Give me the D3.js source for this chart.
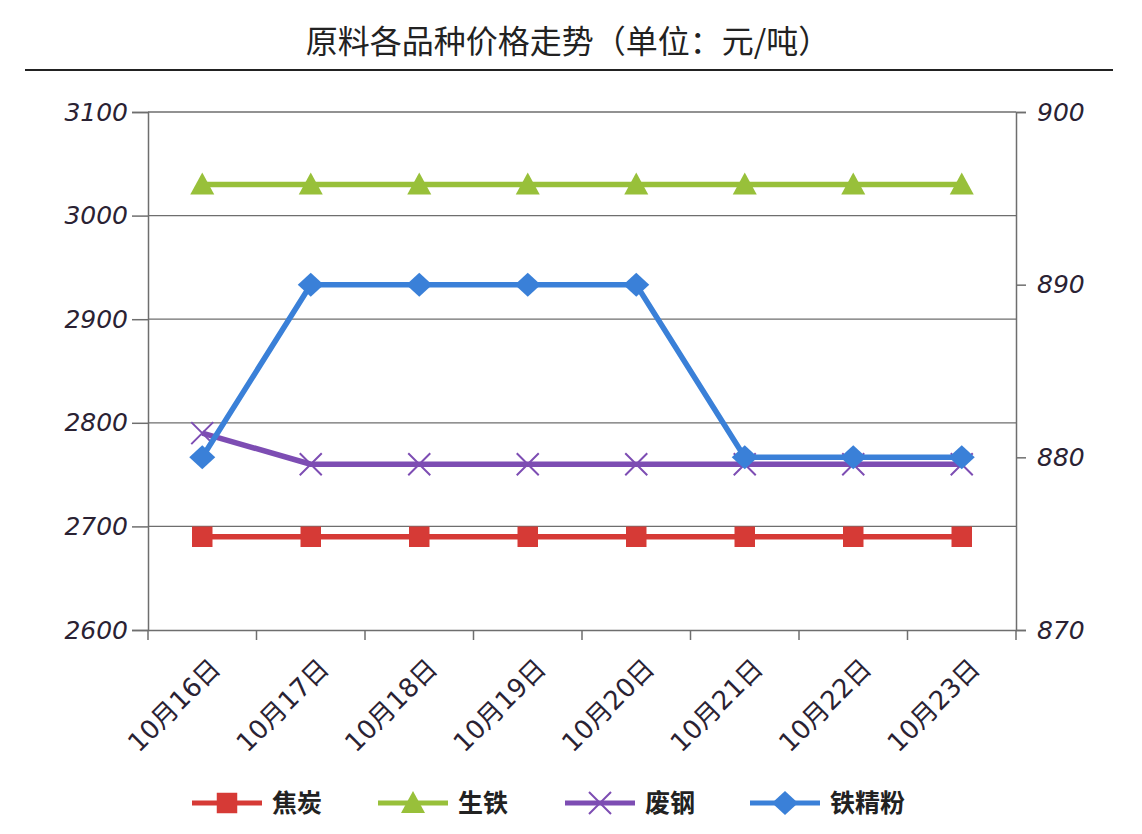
<!DOCTYPE html>
<html>
<head>
<meta charset="utf-8">
<script src="https://cdn.jsdelivr.net/npm/d3@7"></script>
<style>
  body { margin: 0; background: #fff; }
  svg { display: block; }
</style>
</head>
<body>
<div id="chart"></div>
<script>
// data
var categories = ["10月16日", "10月17日", "10月18日", "10月19日", "10月20日", "10月21日", "10月22日", "10月23日"]
var jiaotan = [2690, 2690, 2690, 2690, 2690, 2690, 2690, 2690]
var shengtie = [3030, 3030, 3030, 3030, 3030, 3030, 3030, 3030]
var feigang = [2790, 2760, 2760, 2760, 2760, 2760, 2760, 2760]
var tiejingfen = [880, 890, 890, 890, 890, 880, 880, 880]
var leftTicks = [2600, 2700, 2800, 2900, 3000, 3100]
var rightTicks = [870, 880, 890, 900]

var width = 1142
var height = 834
var margin = {left: 148, right: 1016, top: 112, bottom: 630}

var series = [
  {name: "焦炭", values: jiaotan, axis: "left", color: "#d63a36", symbol: "square"},
  {name: "生铁", values: shengtie, axis: "left", color: "#98c03a", symbol: "triangle"},
  {name: "废钢", values: feigang, axis: "left", color: "#7d4db3", symbol: "cross"},
  {name: "铁精粉", values: tiejingfen, axis: "right", color: "#3a80d8", symbol: "diamond"}
]

var svg = d3.select("#chart").append("svg")
    .attr("width", width)
    .attr("height", height)

// title
svg.append("text")
    .attr("x", 568).attr("y", 53)
    .attr("text-anchor", "middle")
    .style("font-family", "'Noto Sans CJK SC'")
    .style("font-size", "32px")
    .style("fill", "#222")
    .text("原料各品种价格走势（单位：元/吨）")

svg.append("line")
    .attr("x1", 25).attr("x2", 1113)
    .attr("y1", 70).attr("y2", 70)
    .style("stroke", "#222").style("stroke-width", 2)

var x = d3.scaleBand().domain(categories).range([margin.left, margin.right])
var yL = d3.scaleLinear().domain([2600, 3100]).range([margin.bottom, margin.top])
var yR = d3.scaleLinear().domain([870, 900]).range([margin.bottom, margin.top])

// gridlines
svg.append("g").selectAll("line")
    .data(leftTicks.slice(1))
    .enter().append("line")
    .attr("x1", margin.left).attr("x2", margin.right)
    .attr("y1", function(d) { return yL(d) }).attr("y2", function(d) { return yL(d) })
    .style("stroke", "#6e6e6e").style("stroke-width", 1.3)

var tickFont = "'DejaVu Sans'"

var leftAxis = svg.append("g")
    .attr("transform", "translate(" + margin.left + ",0)")
    .call(d3.axisLeft(yL).tickValues(leftTicks).tickFormat(d3.format("d")).tickSize(16).tickPadding(4))
var rightAxis = svg.append("g")
    .attr("transform", "translate(" + margin.right + ",0)")
    .call(d3.axisRight(yR).tickValues(rightTicks).tickFormat(d3.format("d")).tickSize(10).tickPadding(11))
var bottomAxis = svg.append("g")
    .attr("transform", "translate(0," + margin.bottom + ")")
    .call(d3.axisBottom(x).tickSize(0).tickPadding(0))

;[leftAxis, rightAxis, bottomAxis].forEach(function(a) {
  a.select(".domain").style("stroke", "#6e6e6e").style("stroke-width", 1.5)
  a.selectAll(".tick line").style("stroke", "#6e6e6e").style("stroke-width", 1.5)
})
;[leftAxis, rightAxis].forEach(function(a) {
  a.selectAll(".tick text")
    .style("font-family", tickFont)
    .style("font-style", "italic")
    .style("font-size", "25px")
    .style("fill", "#2a2233")
})

// bottom tick marks at category boundaries
var bounds = categories.map(function(c) { return x(c) }).concat([margin.right])
bottomAxis.selectAll(".bound")
    .data(bounds)
    .enter().append("line")
    .attr("class", "bound")
    .attr("x1", function(d) { return d }).attr("x2", function(d) { return d })
    .attr("y1", 0).attr("y2", 10)
    .style("stroke", "#6e6e6e").style("stroke-width", 1.5)

bottomAxis.selectAll(".tick text")
    .style("font-family", "'DejaVu Sans', 'Noto Sans CJK SC'")
    .style("font-size", "26px")
    .style("fill", "#2a2233")
    .attr("text-anchor", "end")
    .attr("dy", 0)
    .attr("transform", "translate(20,40) rotate(-45)")

// lines and markers
function marker(sel, s) {
  if (s.symbol === "cross") {
    sel.append("path")
        .attr("d", "M-11,-11L11,11M-11,11L11,-11")
        .style("stroke", s.color).style("stroke-width", 2)
  } else if (s.symbol === "square") {
    sel.append("path")
        .attr("d", d3.symbol().type(d3.symbolSquare).size(420))
        .style("fill", s.color)
  } else if (s.symbol === "triangle") {
    sel.append("path")
        .attr("d", "M0,-12L12,10L-12,10Z")
        .style("fill", s.color)
  } else {
    sel.append("path")
        .attr("d", "M0,-12L13,0L0,12L-13,0Z")
        .style("fill", s.color)
  }
}

series.forEach(function(s) {
  var yS = s.axis === "left" ? yL : yR
  var line = d3.line()
      .x(function(d, i) { return x(categories[i]) + x.bandwidth() / 2 })
      .y(function(d) { return yS(d) })
  var g = svg.append("g")
  g.append("path")
      .datum(s.values)
      .attr("d", line)
      .style("fill", "none")
      .style("stroke", s.color)
      .style("stroke-width", 5.5)
      .style("stroke-linejoin", "round")
  var pts = g.selectAll(".pt")
      .data(s.values)
      .enter().append("g")
      .attr("transform", function(d, i) {
        return "translate(" + (x(categories[i]) + x.bandwidth() / 2) + "," + yS(d) + ")"
      })
  marker(pts, s)
})

// legend
var legendX = [192, 378, 565, 750]
var legend = svg.append("g")
series.forEach(function(s, i) {
  var lg = legend.append("g").attr("transform", "translate(" + legendX[i] + ",803)")
  lg.append("line").attr("x1", 0).attr("x2", 70)
      .style("stroke", s.color).style("stroke-width", 5)
  marker(lg.append("g").attr("transform", "translate(35,0)"), s)
  lg.append("text")
      .attr("x", 80).attr("y", 9)
      .style("font-family", "'Noto Sans CJK SC'")
      .style("font-size", "25px")
      .style("font-weight", "bold")
      .style("fill", "#222")
      .text(s.name)
})
</script>
</body>
</html>
